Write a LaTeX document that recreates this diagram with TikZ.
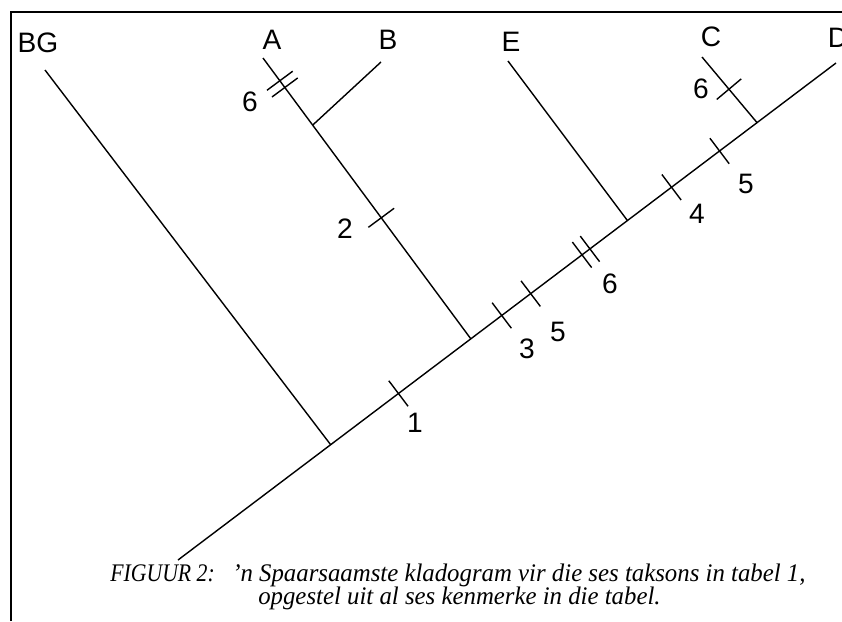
\documentclass[tikz,border=0pt]{standalone}
\usepackage{fontspec}
\setmainfont{Liberation Serif}
\newfontfamily\labelfont{Liberation Sans}
\usetikzlibrary{calc}
\tikzset{
  taxon/.style={font=\labelfont\fontsize{20}{24}\selectfont,inner sep=0pt},
  trait/.style={font=\labelfont\fontsize{20}{24}\selectfont,inner sep=0pt},
  branch/.style={line width=1pt},
  caption/.style={font=\itshape\fontsize{18}{22}\selectfont,inner sep=0pt,anchor=base west}
}
% kenmerk: dwarsstreep op die tak #1--#2 by fraksie #3
\newcommand{\kenmerk}[3]{%
  \path (#1) -- (#2) coordinate[pos=#3] (km);
  \draw[branch] ($(km)!0.4cm!90:(#2)$) -- ($(km)!0.4cm!-90:(#2)$);}
\begin{document}
\begin{tikzpicture}[x=0.025cm,y=-0.025cm]
 \useasboundingbox (0,0) rectangle (842,621);
 \draw[line width=1.6pt] (11,621) -- (11,12) -- (842,12);
 \coordinate (root) at (178,560);
 \coordinate (tipD) at (836,63);
 \coordinate (tipBG) at (45,70);
 \coordinate (tipA) at (263,58);
 \coordinate (tipB) at (381,62);
 \coordinate (tipE) at (508,61);
 \coordinate (tipC) at (702,57);
 \coordinate (jBG) at ($(root)!0.232!(tipD)$);
 \coordinate (jA) at ($(root)!0.445!(tipD)$);
 \coordinate (jE) at ($(root)!0.683!(tipD)$);
 \coordinate (jC) at ($(root)!0.880!(tipD)$);
 \coordinate (jB) at ($(jA)!0.761!(tipA)$);
 \draw[branch] (root) -- (tipD);
 \draw[branch] (jBG) -- (tipBG);
 \draw[branch] (jA) -- (tipA);
 \draw[branch] (jB) -- (tipB);
 \draw[branch] (jE) -- (tipE);
 \draw[branch] (jC) -- (tipC);
 \kenmerk{root}{tipD}{0.335}
 \kenmerk{root}{tipD}{0.492}
 \kenmerk{root}{tipD}{0.536}
 \kenmerk{root}{tipD}{0.614}
 \kenmerk{root}{tipD}{0.626}
 \kenmerk{root}{tipD}{0.750}
 \kenmerk{root}{tipD}{0.823}
 \kenmerk{jA}{tipA}{0.431}
 \kenmerk{jA}{tipA}{0.895}
 \kenmerk{jA}{tipA}{0.919}
 \kenmerk{jC}{tipC}{0.51}
 \node[taxon] (BG) at (38,43) {BG};
 \node[taxon] (A) at (272,40) {A};
 \node[taxon] (B) at (388,40) {B};
 \node[taxon] (E) at (511,42) {E};
 \node[taxon] (C) at (711,37) {C};
 \node[taxon] (D) at (838,38) {D};
 \node[trait] (k6A) at (250,102) {6};
 \node[trait] (k2) at (345,229) {2};
 \node[trait] (k1) at (415,423) {1};
 \node[trait] (k3) at (527,349) {3};
 \node[trait] (k5a) at (558,332) {5};
 \node[trait] (k6) at (610,284) {6};
 \node[trait] (k4) at (697,214) {4};
 \node[trait] (k5b) at (746,184) {5};
 \node[trait] (k6C) at (701,89) {6};
 \node[caption] (fig) at (110,581) {\scalebox{0.86}[1]{FIGUUR 2:}};
 \node[caption] (cap1) at (232,581) {\scalebox{0.98}[1]{'n Spaarsaamste kladogram vir die ses taksons in tabel 1,}};
 \node[caption] (cap2) at (258,604) {\scalebox{0.98}[1]{opgestel uit al ses kenmerke in die tabel.}};
\end{tikzpicture}
\end{document}
